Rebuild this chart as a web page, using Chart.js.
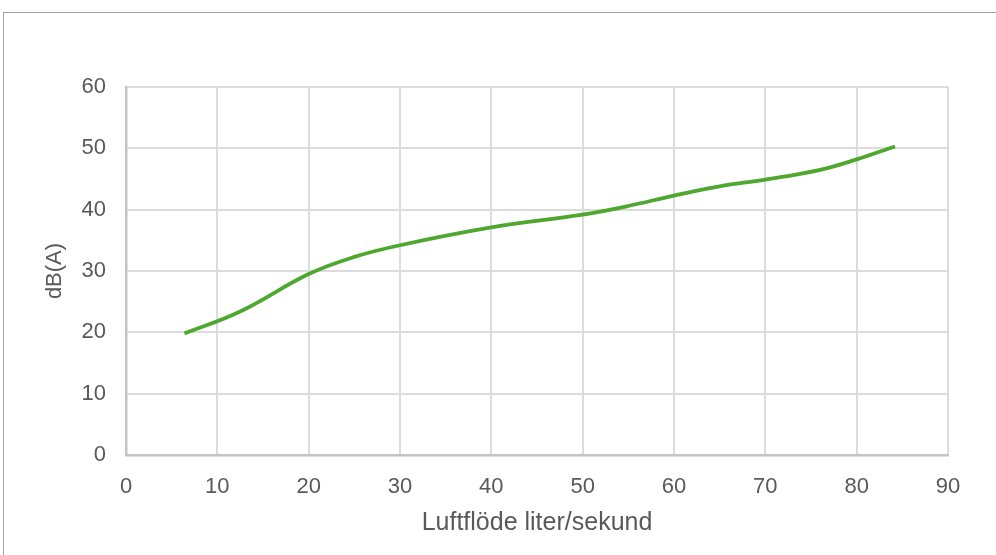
<!DOCTYPE html>
<html>
<head>
<meta charset="utf-8">
<script src="https://cdn.jsdelivr.net/npm/chart.js@4/dist/chart.umd.min.js"></script>
<style>
  html, body { margin: 0; padding: 0; background: #fff; overflow: hidden; }
  #frame { position: absolute; left: 3px; top: 12px; width: 1010px; height: 570px; border: 1px solid #a3a3a3; }
  #chart { position: absolute; left: 0; top: 0; }
</style>
</head>
<body>
<div id="frame"></div>
<canvas id="chart" width="996" height="555"></canvas>
<script>
// airflow (l/s) vs sound level dB(A)
var flow = [6.4, 12.5, 20, 25, 30, 40, 50, 55, 60, 65, 70, 76, 80, 84.2];
var dbA  = [19.8, 23.4, 29.5, 32.3, 34.2, 37.1, 39.2, 40.6, 42.3, 43.8, 44.9, 46.5, 48.2, 50.3];
var xTicks = [0, 10, 20, 30, 40, 50, 60, 70, 80, 90];
var yTicks = [0, 10, 20, 30, 40, 50, 60];

var points = flow.map(function (x, i) { return { x: x, y: dbA[i] }; });
var txt = '#595959';
var fam = 'Liberation Sans, Arial, sans-serif';

new Chart(document.getElementById('chart').getContext('2d'), {
    type: 'scatter',
    data: {
        datasets: [{
            data: points,
            showLine: true,
            borderColor: '#4EA72E',
            borderWidth: 3.8,
            pointRadius: 0,
            tension: 0.4,
            fill: false
        }]
    },
    options: {
        responsive: false,
        animation: false,
        layout: { padding: { left: 0, top: 87, right: 48, bottom: 0 } },
        plugins: { legend: { display: false }, tooltip: { enabled: false } },
        scales: {
            x: {
                type: 'linear',
                min: 0, max: 90,
                afterBuildTicks: function (s) { s.ticks = xTicks.map(function (v) { return { value: v }; }); },
                afterFit: function (s) { s.height = 100; },
                grid: { color: '#dcdcdc', lineWidth: 2, drawTicks: false },
                border: { color: '#c4c4c4', width: 2.5 },
                ticks: { color: txt, font: { family: fam, size: 22 }, padding: 19, maxRotation: 0, autoSkip: false },
                title: { display: true, text: 'Luftflöde liter/sekund', color: txt, font: { family: fam, size: 25 }, padding: { top: 17, bottom: 17 } }
            },
            y: {
                min: 0, max: 60,
                afterBuildTicks: function (s) { s.ticks = yTicks.map(function (v) { return { value: v }; }); },
                afterFit: function (s) { s.width = 126; },
                grid: { color: '#dcdcdc', lineWidth: 2, drawTicks: false },
                border: { color: '#c4c4c4', width: 2.5 },
                ticks: { color: txt, font: { family: fam, size: 22 }, padding: 20, autoSkip: false },
                title: { display: true, text: 'dB(A)', color: txt, font: { family: fam, size: 22 }, padding: { top: 42, bottom: 42 } }
            }
        }
    }
});
</script>
</body>
</html>
